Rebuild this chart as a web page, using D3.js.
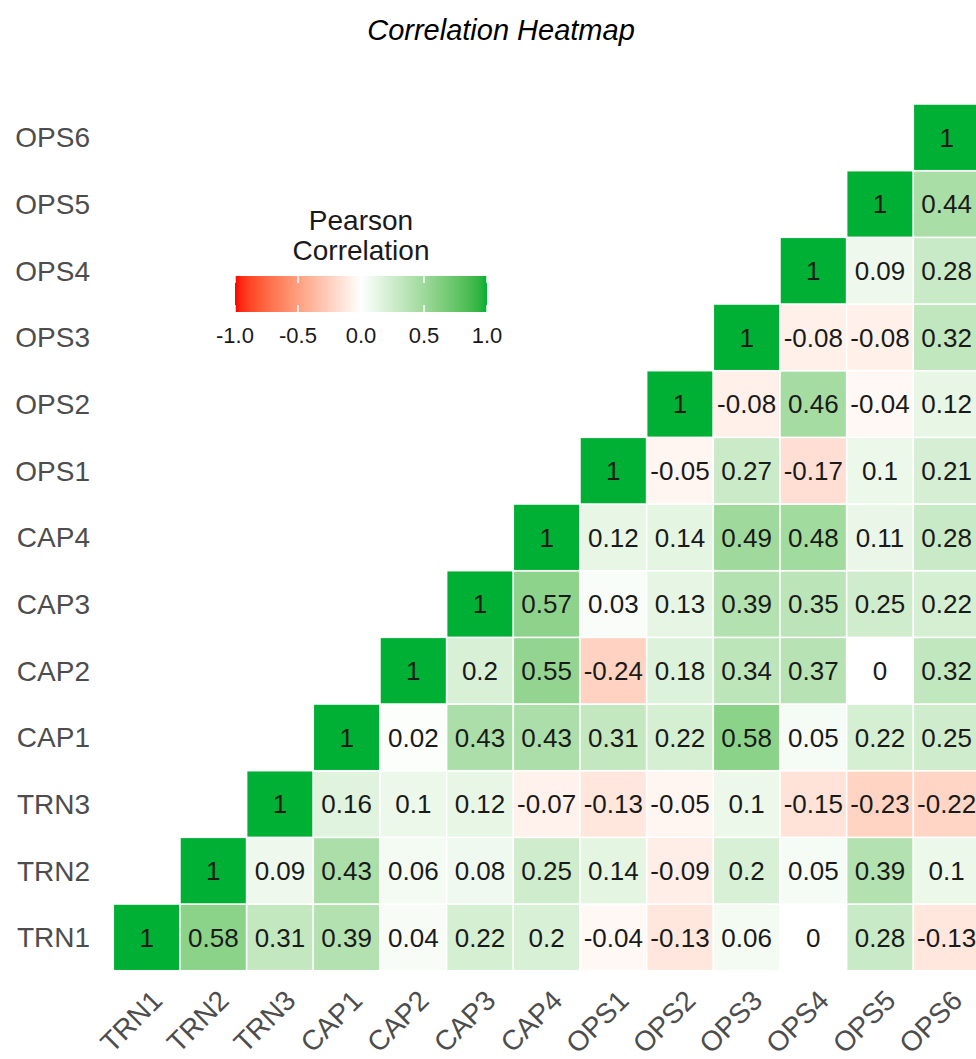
<!DOCTYPE html>
<html>
<head>
<meta charset="utf-8">
<script src="https://cdn.jsdelivr.net/npm/d3@7"></script>
<style>
  body { margin: 0; background: #fff; }
  svg { display: block; font-family: "Liberation Sans", Arial, sans-serif; }
</style>
</head>
<body>
<svg id="chart"></svg>
<script>
// variables, bottom-to-top on y and left-to-right on x
const variables = ["TRN1", "TRN2", "TRN3", "CAP1", "CAP2", "CAP3", "CAP4",
                   "OPS1", "OPS2", "OPS3", "OPS4", "OPS5", "OPS6"];

// upper triangle, each row starts at its own diagonal
const trn1 = [1, 0.58, 0.31, 0.39, 0.04, 0.22, 0.2, -0.04, -0.13, 0.06, 0, 0.28, -0.13];
const trn2 = [1, 0.09, 0.43, 0.06, 0.08, 0.25, 0.14, -0.09, 0.2, 0.05, 0.39, 0.1];
const trn3 = [1, 0.16, 0.1, 0.12, -0.07, -0.13, -0.05, 0.1, -0.15, -0.23, -0.22];
const cap1 = [1, 0.02, 0.43, 0.43, 0.31, 0.22, 0.58, 0.05, 0.22, 0.25];
const cap2 = [1, 0.2, 0.55, -0.24, 0.18, 0.34, 0.37, 0, 0.32];
const cap3 = [1, 0.57, 0.03, 0.13, 0.39, 0.35, 0.25, 0.22];
const cap4 = [1, 0.12, 0.14, 0.49, 0.48, 0.11, 0.28];
const ops1 = [1, -0.05, 0.27, -0.17, 0.1, 0.21];
const ops2 = [1, -0.08, 0.46, -0.04, 0.12];
const ops3 = [1, -0.08, -0.08, 0.32];
const ops4 = [1, 0.09, 0.28];
const ops5 = [1, 0.44];
const ops6 = [1];

const legendTicks = [-1.0, -0.5, 0.0, 0.5, 1.0];

const rows = [trn1, trn2, trn3, cap1, cap2, cap3, cap4, ops1, ops2, ops3, ops4, ops5, ops6];
const cells = [];
rows.forEach((vals, i) => {
    vals.forEach((v, k) => {
        cells.push({ row: variables[i], col: variables[i + k], value: v });
    });
});

const width = 976;
const height = 1059;

const svg = d3.select("#chart")
    .attr("width", width)
    .attr("height", height);

const x = d3.scaleBand()
    .domain(variables)
    .range([113.3, 980]);

const y = d3.scaleBand()
    .domain(variables)
    .range([970.7, 104]);

// red - white - green, interpolated in Lab like ggplot's gradient2
const lowCol = d3.scaleLinear().domain([-1, 0]).range(["#ff0000", "#ffffff"]).interpolate(d3.interpolateLab);
const highCol = d3.scaleLinear().domain([0, 1]).range(["#ffffff", "#00b034"]).interpolate(d3.interpolateLab);
const color = v => v < 0 ? lowCol(v) : highCol(v);

// title
svg.append("text")
    .attr("x", 501)
    .attr("y", 40)
    .attr("text-anchor", "middle")
    .attr("font-size", 29)
    .attr("font-style", "italic")
    .attr("fill", "#000")
    .text("Correlation Heatmap");

// tiles
const tiles = svg.append("g");
tiles.selectAll("rect")
    .data(cells)
    .join("rect")
    .attr("x", d => x(d.col))
    .attr("y", d => y(d.row))
    .attr("width", x.bandwidth())
    .attr("height", y.bandwidth())
    .attr("fill", d => color(d.value))
    .attr("stroke", "#ffffff")
    .attr("stroke-width", 1.5);

tiles.selectAll("text")
    .data(cells)
    .join("text")
    .attr("x", d => x(d.col) + x.bandwidth() / 2)
    .attr("y", d => y(d.row) + y.bandwidth() / 2)
    .attr("dy", "0.36em")
    .attr("text-anchor", "middle")
    .attr("font-size", 26)
    .attr("fill", "#1a1a1a")
    .text(d => String(d.value));

// y axis labels
svg.append("g")
    .selectAll("text")
    .data(variables)
    .join("text")
    .attr("x", 90)
    .attr("y", d => y(d) + y.bandwidth() / 2)
    .attr("dy", "0.36em")
    .attr("text-anchor", "end")
    .attr("font-size", 28)
    .attr("fill", "#4d4d4d")
    .text(d => d);

// x axis labels, rotated 45
svg.append("g")
    .selectAll("text")
    .data(variables)
    .join("text")
    .attr("transform", d => `translate(${x(d) + x.bandwidth() / 2 + 3},${988}) rotate(-45)`)
    .attr("dy", "0.72em")
    .attr("text-anchor", "end")
    .attr("font-size", 28)
    .attr("fill", "#4d4d4d")
    .text(d => d);

// legend
const lx = d3.scaleLinear().domain([-1, 1]).range([235, 487]);
const legend = svg.append("g");

legend.append("text")
    .attr("x", 361)
    .attr("y", 230)
    .attr("text-anchor", "middle")
    .attr("font-size", 28)
    .attr("fill", "#1a1a1a")
    .text("Pearson");

legend.append("text")
    .attr("x", 361)
    .attr("y", 260)
    .attr("text-anchor", "middle")
    .attr("font-size", 28)
    .attr("fill", "#1a1a1a")
    .text("Correlation");

const grad = svg.append("defs").append("linearGradient")
    .attr("id", "legend-grad")
    .attr("x1", "0%").attr("x2", "100%")
    .attr("y1", "0%").attr("y2", "0%");

d3.range(-1, 1.0001, 0.05).forEach(v => {
    grad.append("stop")
        .attr("offset", `${(v + 1) / 2 * 100}%`)
        .attr("stop-color", color(v));
});

legend.append("rect")
    .attr("x", lx(-1))
    .attr("y", 276)
    .attr("width", lx(1) - lx(-1))
    .attr("height", 36)
    .attr("fill", "url(#legend-grad)");

legend.selectAll("line.top")
    .data(legendTicks)
    .join("line")
    .attr("class", "top")
    .attr("x1", d => lx(d)).attr("x2", d => lx(d))
    .attr("y1", 276).attr("y2", 283)
    .attr("stroke", "#fff")
    .attr("stroke-width", 1.5);

legend.selectAll("line.bottom")
    .data(legendTicks)
    .join("line")
    .attr("class", "bottom")
    .attr("x1", d => lx(d)).attr("x2", d => lx(d))
    .attr("y1", 305).attr("y2", 312)
    .attr("stroke", "#fff")
    .attr("stroke-width", 1.5);

legend.selectAll("text.tick")
    .data(legendTicks)
    .join("text")
    .attr("class", "tick")
    .attr("x", d => lx(d))
    .attr("y", 343)
    .attr("text-anchor", "middle")
    .attr("font-size", 22)
    .attr("fill", "#1a1a1a")
    .text(d => d.toFixed(1));
</script>
</body>
</html>
